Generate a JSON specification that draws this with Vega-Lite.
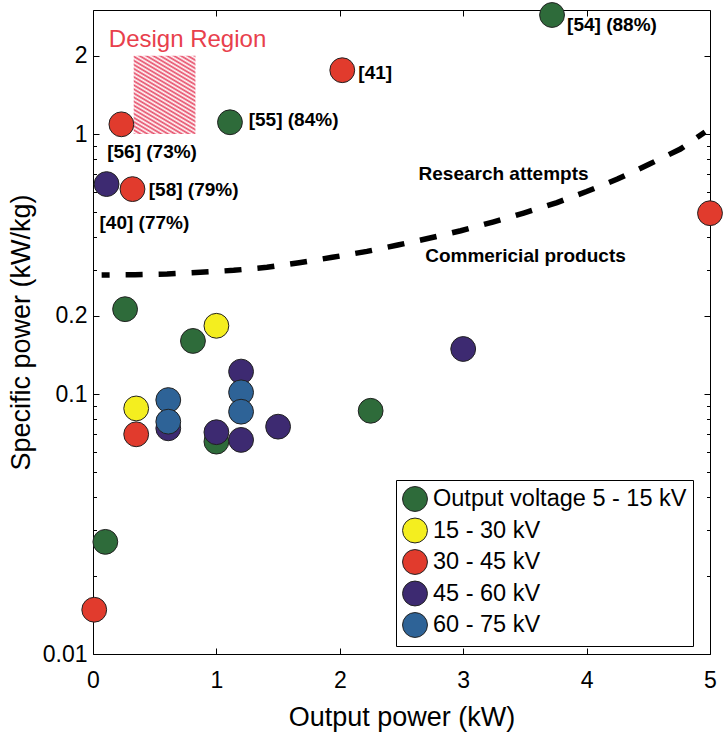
{
  "$schema": "https://vega.github.io/schema/vega-lite/v6.json",
  "width": 617,
  "height": 644,
  "autosize": "none",
  "padding": {"left": 93, "top": 10, "right": 13, "bottom": 82},
  "background": "white",
  "config": {
    "font": "Liberation Sans",
    "view": {"stroke": "black", "strokeWidth": 1},
    "axis": {
      "grid": false,
      "domain": false,
      "tickColor": "black",
      "tickWidth": 1,
      "labelColor": "black",
      "titleColor": "black",
      "labelFont": "Liberation Sans",
      "titleFont": "Liberation Sans",
      "labelFontSize": 23,
      "titleFontSize": 27,
      "titleFontWeight": "normal",
      "labelOverlap": false,
      "labelFlush": false
    }
  },
  "datasets": {
    "devices": [
      {"power": 0.10, "specific": 0.027, "voltage": "Output voltage 5 - 15 kV"},
      {"power": 0.26, "specific": 0.212, "voltage": "Output voltage 5 - 15 kV"},
      {"power": 0.81, "specific": 0.160, "voltage": "Output voltage 5 - 15 kV"},
      {"power": 1.00, "specific": 0.0656, "voltage": "Output voltage 5 - 15 kV"},
      {"power": 1.11, "specific": 1.11, "voltage": "Output voltage 5 - 15 kV"},
      {"power": 2.25, "specific": 0.0862, "voltage": "Output voltage 5 - 15 kV"},
      {"power": 3.72, "specific": 2.87, "voltage": "Output voltage 5 - 15 kV"},
      {"power": 0.35, "specific": 0.088, "voltage": "15 - 30 kV"},
      {"power": 1.00, "specific": 0.183, "voltage": "15 - 30 kV"},
      {"power": 0.11, "specific": 0.642, "voltage": "45 - 60 kV"},
      {"power": 0.01, "specific": 0.0148, "voltage": "30 - 45 kV"},
      {"power": 0.23, "specific": 1.09, "voltage": "30 - 45 kV"},
      {"power": 0.32, "specific": 0.614, "voltage": "30 - 45 kV"},
      {"power": 0.35, "specific": 0.070, "voltage": "30 - 45 kV"},
      {"power": 2.02, "specific": 1.76, "voltage": "30 - 45 kV"},
      {"power": 5.00, "specific": 0.496, "voltage": "30 - 45 kV"},
      {"power": 0.61, "specific": 0.0738, "voltage": "45 - 60 kV"},
      {"power": 1.20, "specific": 0.122, "voltage": "45 - 60 kV"},
      {"power": 0.61, "specific": 0.0948, "voltage": "60 - 75 kV"},
      {"power": 0.61, "specific": 0.0783, "voltage": "60 - 75 kV"},
      {"power": 1.20, "specific": 0.1015, "voltage": "60 - 75 kV"},
      {"power": 1.20, "specific": 0.0855, "voltage": "60 - 75 kV"},
      {"power": 1.20, "specific": 0.0666, "voltage": "45 - 60 kV"},
      {"power": 1.00, "specific": 0.0713, "voltage": "45 - 60 kV"},
      {"power": 1.50, "specific": 0.0749, "voltage": "45 - 60 kV"},
      {"power": 3.00, "specific": 0.149, "voltage": "45 - 60 kV"}
    ],
    "boundary": [
      {"power": 0.07, "specific": 0.2869},
      {"power": 0.34, "specific": 0.2876},
      {"power": 0.60, "specific": 0.2894},
      {"power": 0.87, "specific": 0.2938},
      {"power": 1.14, "specific": 0.2991},
      {"power": 1.41, "specific": 0.3071},
      {"power": 1.67, "specific": 0.3199},
      {"power": 1.94, "specific": 0.3356},
      {"power": 2.22, "specific": 0.3538},
      {"power": 2.47, "specific": 0.3741},
      {"power": 2.73, "specific": 0.3981},
      {"power": 2.98, "specific": 0.4246},
      {"power": 3.24, "specific": 0.4586},
      {"power": 3.49, "specific": 0.4967},
      {"power": 3.76, "specific": 0.5450},
      {"power": 4.00, "specific": 0.6009},
      {"power": 4.25, "specific": 0.6713},
      {"power": 4.51, "specific": 0.7667},
      {"power": 4.76, "specific": 0.8756},
      {"power": 4.96, "specific": 1.018}
    ],
    "notes": [
      {"power": 3.842, "specific": 2.63, "note": "[54] (88%)"},
      {"power": 2.150, "specific": 1.717, "note": "[41]"},
      {"power": 1.262, "specific": 1.132, "note": "[55] (84%)"},
      {"power": 0.115, "specific": 0.855, "note": "[56] (73%)"},
      {"power": 0.452, "specific": 0.609, "note": "[58] (79%)"},
      {"power": 0.053, "specific": 0.4534, "note": "[40] (77%)"},
      {"power": 2.638, "specific": 0.7018, "note": "Research attempts"},
      {"power": 2.692, "specific": 0.3409, "note": "Commericial products"}
    ],
    "region": [
      {"p0": 0.33, "p1": 0.83, "s0": 1, "s1": 2, "power": 0.128, "specific": 2.298, "note": "Design Region"}
    ]
  },
  "layer": [
    {
      "data": {"name": "region"},
      "mark": {
        "type": "rect",
        "fill": {
          "gradient": "linear",
          "x1": 0, "y1": 1, "x2": 0.56, "y2": -0.2,
          "stops": [
            {"offset": 0, "color": "#e64a66"}, {"offset": 0.0179, "color": "#ffffff"},
            {"offset": 0.0357, "color": "#e64a66"}, {"offset": 0.0536, "color": "#ffffff"},
            {"offset": 0.0714, "color": "#e64a66"}, {"offset": 0.0893, "color": "#ffffff"},
            {"offset": 0.1071, "color": "#e64a66"}, {"offset": 0.125, "color": "#ffffff"},
            {"offset": 0.1429, "color": "#e64a66"}, {"offset": 0.1607, "color": "#ffffff"},
            {"offset": 0.1786, "color": "#e64a66"}, {"offset": 0.1964, "color": "#ffffff"},
            {"offset": 0.2143, "color": "#e64a66"}, {"offset": 0.2321, "color": "#ffffff"},
            {"offset": 0.25, "color": "#e64a66"}, {"offset": 0.2679, "color": "#ffffff"},
            {"offset": 0.2857, "color": "#e64a66"}, {"offset": 0.3036, "color": "#ffffff"},
            {"offset": 0.3214, "color": "#e64a66"}, {"offset": 0.3393, "color": "#ffffff"},
            {"offset": 0.3571, "color": "#e64a66"}, {"offset": 0.375, "color": "#ffffff"},
            {"offset": 0.3929, "color": "#e64a66"}, {"offset": 0.4107, "color": "#ffffff"},
            {"offset": 0.4286, "color": "#e64a66"}, {"offset": 0.4464, "color": "#ffffff"},
            {"offset": 0.4643, "color": "#e64a66"}, {"offset": 0.4821, "color": "#ffffff"},
            {"offset": 0.5, "color": "#e64a66"}, {"offset": 0.5179, "color": "#ffffff"},
            {"offset": 0.5357, "color": "#e64a66"}, {"offset": 0.5536, "color": "#ffffff"},
            {"offset": 0.5714, "color": "#e64a66"}, {"offset": 0.5893, "color": "#ffffff"},
            {"offset": 0.6071, "color": "#e64a66"}, {"offset": 0.625, "color": "#ffffff"},
            {"offset": 0.6429, "color": "#e64a66"}, {"offset": 0.6607, "color": "#ffffff"},
            {"offset": 0.6786, "color": "#e64a66"}, {"offset": 0.6964, "color": "#ffffff"},
            {"offset": 0.7143, "color": "#e64a66"}, {"offset": 0.7321, "color": "#ffffff"},
            {"offset": 0.75, "color": "#e64a66"}, {"offset": 0.7679, "color": "#ffffff"},
            {"offset": 0.7857, "color": "#e64a66"}, {"offset": 0.8036, "color": "#ffffff"},
            {"offset": 0.8214, "color": "#e64a66"}, {"offset": 0.8393, "color": "#ffffff"},
            {"offset": 0.8571, "color": "#e64a66"}, {"offset": 0.875, "color": "#ffffff"},
            {"offset": 0.8929, "color": "#e64a66"}, {"offset": 0.9107, "color": "#ffffff"},
            {"offset": 0.9286, "color": "#e64a66"}, {"offset": 0.9464, "color": "#ffffff"},
            {"offset": 0.9643, "color": "#e64a66"}, {"offset": 0.9821, "color": "#ffffff"},
            {"offset": 1, "color": "#e64a66"}
          ]
        }
      },
      "encoding": {
        "x": {"field": "p0", "type": "quantitative",
              "scale": {"domain": [0, 5], "nice": false, "zero": false},
              "axis": {"orient": "top", "labels": false, "title": null, "values": [0, 1, 2, 3, 4, 5], "tickSize": -6}},
        "x2": {"field": "p1"},
        "y": {"field": "s0", "type": "quantitative",
              "scale": {"type": "log", "domain": [0.01, 3], "nice": false},
              "axis": {"orient": "right", "labels": false, "title": null, "values": [0.01, 0.1, 0.2, 1, 2], "tickSize": -6}},
        "y2": {"field": "s1"}
      }
    },
    {
      "data": {"name": "boundary"},
      "mark": {"type": "line", "color": "black", "strokeWidth": 5.5, "strokeDash": [17, 16], "strokeDashOffset": 9, "strokeCap": "butt"},
      "encoding": {
        "x": {"field": "power", "type": "quantitative",
              "scale": {"domain": [0, 5], "nice": false, "zero": false}, "axis": null},
        "y": {"field": "specific", "type": "quantitative",
              "scale": {"type": "log", "domain": [0.01, 3], "nice": false},
              "axis": {"orient": "left", "labels": false, "title": null, "tickSize": -3.5,
                       "values": [0.02, 0.03, 0.04, 0.05, 0.06, 0.07, 0.08, 0.09, 0.3, 0.4, 0.5, 0.6, 0.7, 0.8, 0.9]}}
      }
    },
    {
      "data": {"name": "devices"},
      "mark": {"type": "point", "shape": "circle", "filled": true, "size": 616, "opacity": 1, "stroke": "#222222", "strokeWidth": 1},
      "encoding": {
        "x": {"field": "power", "type": "quantitative",
              "scale": {"domain": [0, 5], "nice": false, "zero": false},
              "axis": {"orient": "bottom", "title": "Output power (kW)", "values": [0, 1, 2, 3, 4, 5],
                       "tickSize": -6, "labelPadding": 21, "titlePadding": 12}},
        "y": {"field": "specific", "type": "quantitative",
              "scale": {"type": "log", "domain": [0.01, 3], "nice": false},
              "axis": {"orient": "left", "title": "Specific power (kW/kg)", "values": [0.01, 0.1, 0.2, 1, 2],
                       "format": "~g", "tickSize": -6, "labelPadding": 12, "titlePadding": 7}},
        "color": {
          "field": "voltage", "type": "nominal",
          "scale": {
            "domain": ["Output voltage 5 - 15 kV", "15 - 30 kV", "30 - 45 kV", "45 - 60 kV", "60 - 75 kV"],
            "range": ["#2e6b3a", "#f4ee1f", "#e13b2d", "#3d2a71", "#2e6397"]
          },
          "legend": {
            "orient": "none", "legendX": 303, "legendY": 470, "title": null,
            "symbolType": "circle", "symbolSize": 620, "symbolStrokeColor": "#222222", "symbolStrokeWidth": 1,
            "symbolOpacity": 1, "labelFont": "Liberation Sans", "labelFontSize": 23.5, "labelColor": "black",
            "labelLimit": 400, "labelOffset": 5, "rowPadding": 1.5, "padding": 6,
            "strokeColor": "black", "fillColor": "white"
          }
        }
      }
    },
    {
      "data": {"name": "notes"},
      "mark": {"type": "text", "align": "left", "baseline": "middle", "font": "Liberation Sans", "fontWeight": "bold", "fontSize": 19, "color": "black"},
      "encoding": {
        "x": {"field": "power", "type": "quantitative",
              "scale": {"domain": [0, 5], "nice": false, "zero": false}, "axis": null},
        "y": {"field": "specific", "type": "quantitative",
              "scale": {"type": "log", "domain": [0.01, 3], "nice": false},
              "axis": {"orient": "right", "labels": false, "title": null, "tickSize": -3.5,
                       "values": [0.02, 0.03, 0.04, 0.05, 0.06, 0.07, 0.08, 0.09, 0.3, 0.4, 0.5, 0.6, 0.7, 0.8, 0.9]}},
        "text": {"field": "note"}
      }
    },
    {
      "data": {"name": "region"},
      "mark": {"type": "text", "align": "left", "baseline": "middle", "font": "Liberation Sans", "fontSize": 24, "color": "#e8404c"},
      "encoding": {
        "x": {"field": "power", "type": "quantitative",
              "scale": {"domain": [0, 5], "nice": false, "zero": false}, "axis": null},
        "y": {"field": "specific", "type": "quantitative",
              "scale": {"type": "log", "domain": [0.01, 3], "nice": false}, "axis": null},
        "text": {"field": "note"}
      }
    }
  ],
  "resolve": {"axis": {"x": "independent", "y": "independent"}}
}
